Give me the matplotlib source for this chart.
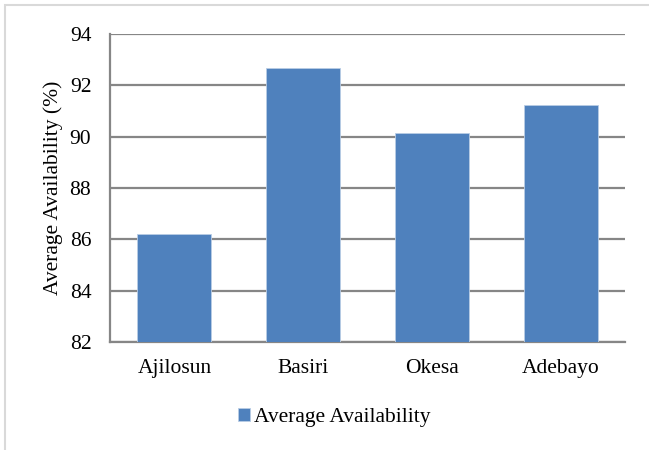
import matplotlib.pyplot as plt
from matplotlib.patches import Rectangle

sitios = ['Ajilosun', 'Basiri', 'Okesa', 'Adebayo']
disponibilidad = [86.21, 92.66, 90.15, 91.23]
ticks_y = [82, 84, 86, 88, 90, 92, 94]

plt.rcParams['font.family'] = ['Liberation Serif', 'DejaVu Serif']

fig = plt.figure(figsize=(6.49, 4.5), dpi=100)
ax = fig.add_axes([0.1695, 0.24, 0.7935, 0.6844])

# Borde exterior del gráfico (sale por la derecha y por abajo)
fig.patches.append(Rectangle((5 / 649, -0.05), 1.1, 1.05 - 5.5 / 450, transform=fig.transFigure,
                             fill=False, edgecolor='#d9d9d9', linewidth=1.5))

x = range(len(sitios))
ax.bar(x, disponibilidad, width=0.575, color='#4f81bd', edgecolor='#b9cde5', linewidth=0.6,
       label='Average Availability', zorder=3)

ax.set_ylim(82, 94)
ax.set_xlim(-0.5, len(sitios) - 0.5)
ax.set_yticks(ticks_y)
ax.set_xticks(list(x))
ax.set_xticklabels(sitios)
ax.tick_params(axis='y', labelsize=15.5, length=0, pad=13.5)
ax.tick_params(axis='x', labelsize=15.5, length=0, pad=12)

ax.yaxis.grid(True, color='#868686', linewidth=1.6, zorder=0)
ax.set_axisbelow(True)
for lado in ['top', 'right']:
    ax.spines[lado].set_visible(False)
for lado in ['left', 'bottom']:
    ax.spines[lado].set_color('#868686')
    ax.spines[lado].set_linewidth(1.6)

ax.set_ylabel('Average Availability (%)', fontsize=15.5, labelpad=5)

fig.legend(loc='center', bbox_to_anchor=(0.515, 0.072), frameon=False, fontsize=15.5,
           handlelength=0.55, handleheight=0.55, handletextpad=0.2)

fig.savefig('out.png', dpi=100)
